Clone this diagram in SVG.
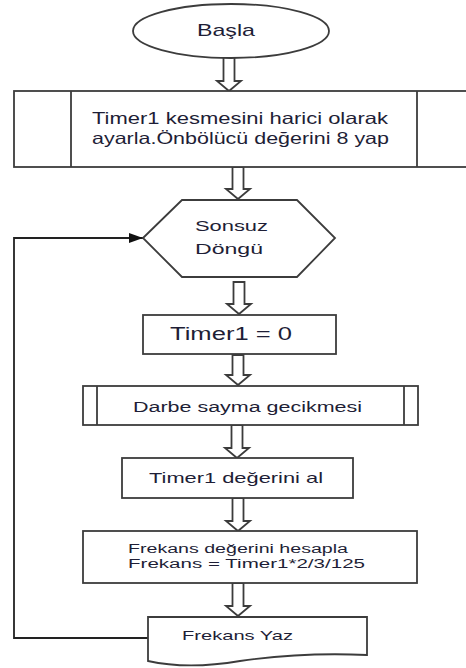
<svg xmlns="http://www.w3.org/2000/svg" width="466" height="668" viewBox="0 0 466 668">
<style>
.shape{fill:#fff;stroke:#3c3c3c;stroke-width:1.8}
.inner{fill:none;stroke:#3c3c3c;stroke-width:1.8}
.barrow{fill:#fff;stroke:#3c3c3c;stroke-width:1.8;stroke-linejoin:miter}
.t{font-family:"Liberation Sans",Arial,sans-serif;fill:#1e1e36}
.loop{fill:none;stroke:#222;stroke-width:1.8}
</style>
<defs>
<marker id="ah" markerWidth="14" markerHeight="10" refX="14" refY="5" orient="auto" markerUnits="userSpaceOnUse">
<path d="M0,0 L14,5 L0,10 Z" fill="#111"/>
</marker>
</defs>
<rect width="466" height="668" fill="#fff"/>
<g id="connectors">
<path class="barrow" d="M223.5,57 V81 H217 L229,91 L241,81 H234.5 V57 Z"/>
<path class="barrow" d="M232.5,167 V189 H226 L238,199 L250,189 H243.5 V167 Z"/>
<path class="barrow" d="M233.5,282 V304 H227 L239,314 L251,304 H244.5 V282 Z"/>
<path class="barrow" d="M232.5,355 V375 H226 L238,385 L250,375 H243.5 V355 Z"/>
<path class="barrow" d="M231.5,425 V448 H225 L237,458 L249,448 H242.5 V425 Z"/>
<path class="barrow" d="M232.5,498 V521 H226 L238,531 L250,521 H243.5 V498 Z"/>
<path class="barrow" d="M232.5,583 V606 H226 L238,616 L250,606 H243.5 V583 Z"/>
<path class="loop" d="M148,638 H14 V238 H143" marker-end="url(#ah)"/>
</g>
<g id="start">
<ellipse class="shape" cx="231" cy="31" rx="98" ry="27"/>
<text class="t" x="197" y="36" font-size="17" textLength="58" lengthAdjust="spacingAndGlyphs">Başla</text>
</g>
<g id="setup">
<rect class="shape" x="14" y="91" width="462" height="76"/>
<line class="inner" x1="71" y1="91" x2="71" y2="167"/>
<line class="inner" x1="417" y1="91" x2="417" y2="167"/>
<text class="t" x="92" y="124" font-size="16.5" textLength="296" lengthAdjust="spacingAndGlyphs">Timer1 kesmesini harici olarak</text>
<text class="t" x="92" y="144" font-size="16.5" textLength="297" lengthAdjust="spacingAndGlyphs">ayarla.Önbölücü değerini 8 yap</text>
</g>
<g id="loop">
<polygon class="shape" points="143,238 182,200 297,200 335,238 297,277 182,277"/>
<text class="t" x="195" y="231" font-size="14.5" textLength="73" lengthAdjust="spacingAndGlyphs">Sonsuz</text>
<text class="t" x="195" y="254" font-size="14.5" textLength="68" lengthAdjust="spacingAndGlyphs">Döngü</text>
</g>
<g id="reset">
<rect class="shape" x="143" y="315" width="193" height="39"/>
<text class="t" x="170" y="340" font-size="17.5" textLength="122" lengthAdjust="spacingAndGlyphs">Timer1 = 0</text>
</g>
<g id="delay">
<rect class="shape" x="83" y="386" width="335" height="39"/>
<line class="inner" x1="97" y1="386" x2="97" y2="425"/>
<line class="inner" x1="404" y1="386" x2="404" y2="425"/>
<text class="t" x="133" y="412" font-size="15.5" textLength="229" lengthAdjust="spacingAndGlyphs">Darbe sayma gecikmesi</text>
</g>
<g id="read">
<rect class="shape" x="122" y="458" width="231" height="40"/>
<text class="t" x="149" y="483" font-size="14.5" textLength="174" lengthAdjust="spacingAndGlyphs">Timer1 değerini al</text>
</g>
<g id="calc">
<rect class="shape" x="83" y="531" width="334" height="52"/>
<text class="t" x="128" y="553" font-size="12" textLength="220" lengthAdjust="spacingAndGlyphs">Frekans değerini hesapla</text>
<text class="t" x="128" y="568" font-size="12" textLength="237" lengthAdjust="spacingAndGlyphs">Frekans = Timer1*2/3/125</text>
</g>
<g id="write">
<path class="shape" d="M148,617 H367 V655 C325,653 282,655 240,661 C205,667 175,667 148,661 Z"/>
<text class="t" x="182" y="640" font-size="13.5" textLength="111" lengthAdjust="spacingAndGlyphs">Frekans Yaz</text>
</g>
</svg>
